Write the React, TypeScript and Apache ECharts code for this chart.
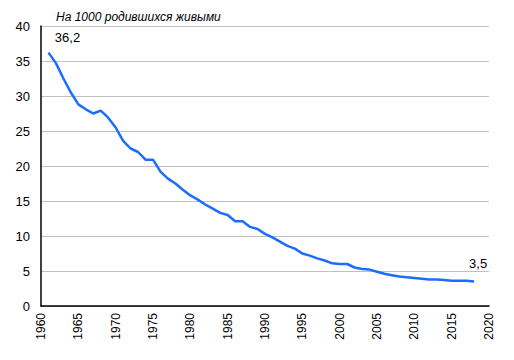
import React, { useEffect, useRef } from "react";
import * as echarts from "echarts";

const years: number[] = [
  1961, 1962, 1963, 1964, 1965, 1966, 1967, 1968, 1969, 1970,
  1971, 1972, 1973, 1974, 1975, 1976, 1977, 1978, 1979, 1980,
  1981, 1982, 1983, 1984, 1985, 1986, 1987, 1988, 1989, 1990,
  1991, 1992, 1993, 1994, 1995, 1996, 1997, 1998, 1999, 2000,
  2001, 2002, 2003, 2004, 2005, 2006, 2007, 2008, 2009, 2010,
  2011, 2012, 2013, 2014, 2015, 2016, 2017, 2018,
];
const rates: number[] = [
  36.2, 34.7, 32.5, 30.5, 28.8, 28.1, 27.5, 27.9, 26.9, 25.5,
  23.6, 22.5, 22.0, 20.9, 20.9, 19.2, 18.2, 17.5, 16.6, 15.8,
  15.2, 14.5, 13.9, 13.3, 13.0, 12.1, 12.1, 11.3, 11.0, 10.3,
  9.8, 9.2, 8.6, 8.2, 7.5, 7.2, 6.8, 6.5, 6.1, 6.0,
  6.0, 5.5, 5.3, 5.2, 4.9, 4.6, 4.4, 4.2, 4.1, 4.0,
  3.9, 3.8, 3.8, 3.7, 3.6, 3.6, 3.6, 3.5,
];
const titleText = "На 1000 родившихся живыми";

const FONT = "'Liberation Sans', Arial, sans-serif";

export default function App() {
  const ref = useRef<HTMLDivElement>(null);
  useEffect(() => {
    document.body.style.margin = "0";
    if (!ref.current) return;
    const chart = echarts.init(ref.current, undefined, { renderer: "svg" });
    const last = years.length - 1;
    const data = years.map((y, i) => {
      const item: any = { value: [y, rates[i]] };
      if (i === 0) {
        item.label = { show: true, position: "top", offset: [19, -4] };
      } else if (i === last) {
        item.label = { show: true, position: "top", offset: [4, -7] };
      }
      return item;
    });
    chart.setOption({
      animation: false,
      textStyle: { fontFamily: FONT },
      title: {
        text: titleText,
        left: 51,
        top: 6,
        textStyle: {
          fontFamily: FONT,
          fontSize: 12,
          fontStyle: "italic",
          fontWeight: "normal",
          color: "#000",
        },
      },
      grid: { left: 41, right: 25, top: 26, bottom: 54, containLabel: false },
      xAxis: {
        type: "value",
        min: 1960,
        max: 2020,
        interval: 5,
        axisLine: { show: true, lineStyle: { color: "#000", width: 1.5 } },
        axisTick: { show: false },
        splitLine: { show: false },
        axisLabel: {
          rotate: 90,
          margin: 7,
          fontSize: 12,
          color: "#000",
          fontFamily: FONT,
          formatter: (v: number) => String(v),
        },
      },
      yAxis: {
        type: "value",
        min: 0,
        max: 40,
        interval: 5,
        axisLine: { show: true, lineStyle: { color: "#000", width: 1.5 } },
        axisTick: { show: false },
        splitLine: { show: true, lineStyle: { color: "#c0c0c0", width: 1 } },
        axisLabel: { margin: 11, fontSize: 13, color: "#000", fontFamily: FONT },
      },
      series: [
        {
          type: "line",
          data,
          showSymbol: true,
          symbol: "circle",
          symbolSize: 0,
          lineStyle: { color: "#1a6dff", width: 2.5 },
          itemStyle: { color: "#1a6dff" },
          label: {
            show: false,
            fontSize: 13,
            color: "#000",
            fontFamily: FONT,
            formatter: (p: any) => String(p.value[1]).replace(".", ","),
          },
          z: 3,
        },
      ],
    });
    return () => chart.dispose();
  }, []);
  return <div ref={ref} style={{ width: 514, height: 360 }} />;
}
